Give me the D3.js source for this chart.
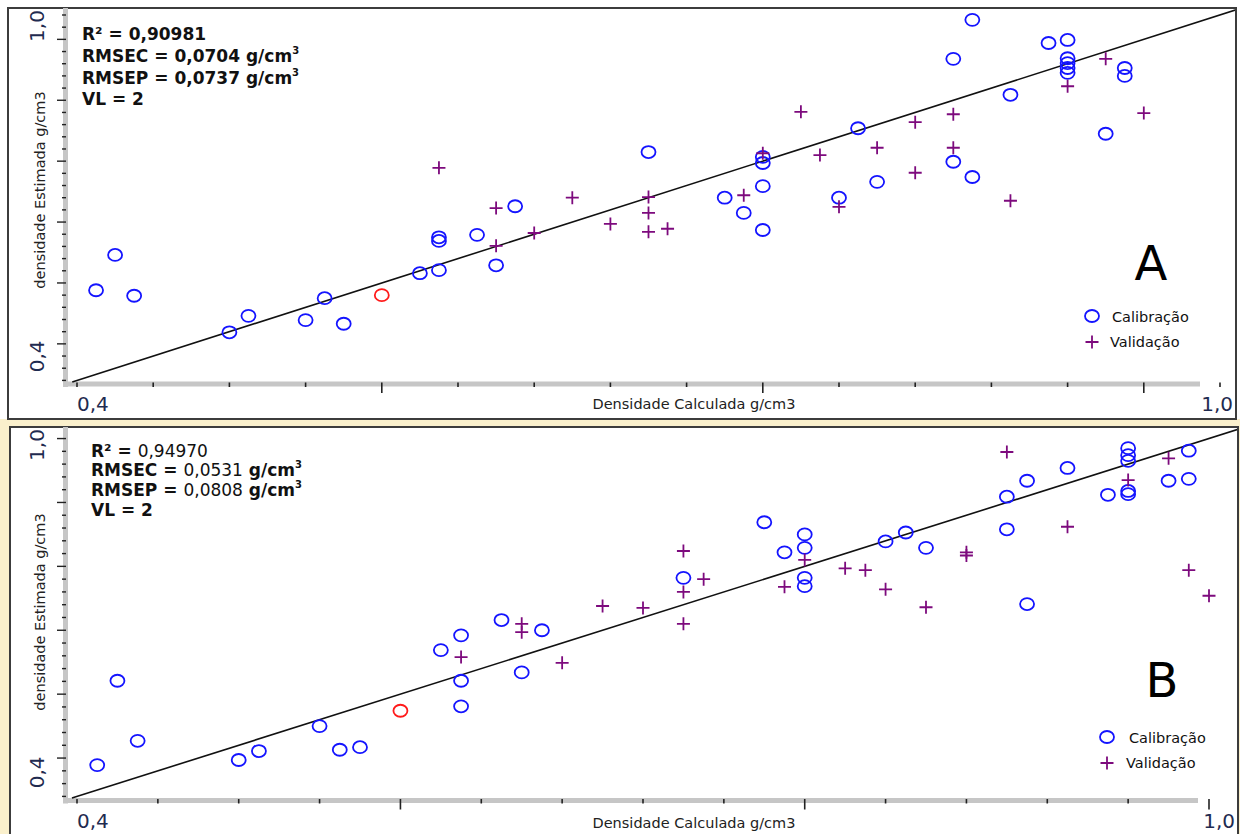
<!DOCTYPE html>
<html>
<head>
<meta charset="utf-8">
<script src="https://cdn.jsdelivr.net/npm/d3@7"></script>
<style>
  body { margin: 0; background: #fff; }
  svg { display: block; }
  text { font-family: "DejaVu Sans", Verdana, sans-serif; }
</style>
</head>
<body>
<svg id="chart" width="1240" height="834"></svg>
<script>
// ---- data (density calculated, density estimated) ----
const calibA = [
  [0.41, 0.548], [0.42, 0.606], [0.43, 0.539], [0.48, 0.479], [0.49, 0.506], [0.52, 0.499],
  [0.53, 0.535], [0.54, 0.493], [0.58, 0.576], [0.59, 0.581], [0.59, 0.635], [0.59, 0.629],
  [0.61, 0.639], [0.62, 0.589], [0.63, 0.686], [0.70, 0.775], [0.74, 0.700], [0.75, 0.675],
  [0.76, 0.647], [0.76, 0.719], [0.76, 0.757], [0.76, 0.767], [0.80, 0.700], [0.81, 0.814],
  [0.82, 0.726], [0.86, 0.759], [0.87, 0.734], [0.86, 0.928], [0.87, 0.992], [0.89, 0.869],
  [0.91, 0.954], [0.92, 0.959], [0.92, 0.929], [0.92, 0.921], [0.92, 0.913], [0.92, 0.905],
  [0.95, 0.913], [0.95, 0.900], [0.94, 0.805]
];
const validA = [
  [0.59, 0.749], [0.62, 0.683], [0.62, 0.621], [0.64, 0.642], [0.66, 0.700], [0.68, 0.657],
  [0.70, 0.701], [0.70, 0.675], [0.70, 0.644], [0.71, 0.649], [0.75, 0.704], [0.76, 0.773],
  [0.78, 0.841], [0.79, 0.770], [0.80, 0.685], [0.82, 0.782], [0.84, 0.824], [0.84, 0.741],
  [0.86, 0.837], [0.86, 0.782], [0.89, 0.695], [0.92, 0.883], [0.94, 0.928], [0.96, 0.839]
];
const outlierA = [[0.56, 0.540]];
const targetA = [0.3975, 1.0085];
const statsA = ["0,90981", "0,0704", "0,0737", "2"];

const calibB = [
  [0.41, 0.449], [0.42, 0.581], [0.43, 0.487], [0.48, 0.457], [0.49, 0.471], [0.52, 0.510],
  [0.53, 0.473], [0.54, 0.477], [0.58, 0.629], [0.59, 0.652], [0.59, 0.581], [0.59, 0.541],
  [0.61, 0.676], [0.62, 0.594], [0.63, 0.660], [0.70, 0.742], [0.74, 0.829], [0.75, 0.782],
  [0.76, 0.810], [0.76, 0.789], [0.76, 0.742], [0.76, 0.729], [0.80, 0.799], [0.81, 0.813],
  [0.82, 0.789], [0.86, 0.869], [0.86, 0.818], [0.87, 0.701], [0.87, 0.894], [0.89, 0.914],
  [0.92, 0.945], [0.92, 0.934], [0.92, 0.925], [0.92, 0.878], [0.92, 0.873], [0.91, 0.872],
  [0.94, 0.894], [0.95, 0.897], [0.95, 0.941]
];
const validB = [
  [0.59, 0.618], [0.62, 0.670], [0.62, 0.657], [0.64, 0.609], [0.66, 0.698], [0.68, 0.695],
  [0.70, 0.784], [0.70, 0.720], [0.70, 0.670], [0.71, 0.740], [0.75, 0.728], [0.76, 0.770],
  [0.78, 0.757], [0.79, 0.754], [0.80, 0.724], [0.82, 0.696], [0.84, 0.782], [0.84, 0.777],
  [0.86, 0.939], [0.89, 0.822], [0.92, 0.895], [0.94, 0.929], [0.95, 0.754], [0.96, 0.714]
];
const outlierB = [[0.56, 0.534]];
const targetB = [0.3975, 0.974];
const statsB = ["0,94970", "0,0531", "0,0808", "2"];

const statNames = ["R²", "RMSEC", "RMSEP", "VL"];
const endLabels = ["0,4", "1,0"];
const legendLabels = ["Calibração", "Validação"];
const xTitle = "Densidade Calculada g/cm3";
const yTitle = "densidade Estimada g/cm3";

// ---- layout ----
const panels = [
  {
    name: "A", calib: calibA, valid: validA, outlier: outlierA, target: targetA, stats: statsA,
    frame: {x: 8, y: 8, w: 1228, h: 411},
    xDomain: [0.4, 1.0], xRange: [77, 1220],
    yDomain: [0.4, 1.0], yRange: [380.4, 15],
    barEnd: 1200, barY: 384, statsX: 82, statsY: [40, 62, 84, 105], boldValues: true,
    xTitleY: 409, yTitleY: 190,
    letter: [1151, 280], legend: [1092, 316], legendText: [20, 18]
  },
  {
    name: "B", calib: calibB, valid: validB, outlier: outlierB, target: targetB, stats: statsB,
    frame: {x: 10, y: 427, w: 1228, h: 420},
    xDomain: [0.4, 0.96], xRange: [77, 1209],
    yDomain: [0.4, 1.0], yRange: [796.4, 413],
    barEnd: 1198, barY: 800.5, statsX: 91, statsY: [457, 476, 496, 516], boldValues: false,
    xTitleY: 828, yTitleY: 612,
    letter: [1162, 697], legend: [1107, 737], legendText: [22, 19]
  }
];

const svg = d3.select("#chart");

// cream surround of the lower (active) window
svg.append("rect").attr("x", 0).attr("y", 419).attr("width", 1240).attr("height", 415)
  .attr("fill", "#faf0cc");

panels.forEach(p => drawPanel(p));

function drawPanel(p) {
  const g = svg.append("g").attr("class", "panel-" + p.name);
  const f = p.frame;

  g.append("rect")
    .attr("x", f.x).attr("y", f.y).attr("width", f.w).attr("height", f.h)
    .attr("fill", "#fff").attr("stroke", "#3c3c3c").attr("stroke-width", 2);

  const x = d3.scaleLinear().domain(p.xDomain).range(p.xRange);
  const y = d3.scaleLinear().domain(p.yDomain).range(p.yRange);

  const clipId = "clip-" + p.name;
  g.append("clipPath").attr("id", clipId)
    .append("rect").attr("x", f.x + 1).attr("y", f.y + 1).attr("width", f.w - 2).attr("height", f.h - 2);

  // grey axis bars
  g.append("rect").attr("x", 63).attr("y", f.y).attr("width", 5).attr("height", p.barY + 3 - f.y)
    .attr("fill", "#c6c6c6");
  g.append("rect").attr("x", 63).attr("y", p.barY - 2.5).attr("width", p.barEnd - 63).attr("height", 5)
    .attr("fill", "#c6c6c6");

  // x ticks every 0.04, longer ones every 0.2
  const xTicks = d3.range(0, 16).map(i => 0.4 + i * 0.04).filter(v => v <= p.xDomain[1] + 1e-6);
  g.selectAll(".xt").data(xTicks).join("line")
    .attr("x1", d => x(d)).attr("x2", d => x(d))
    .attr("y1", p.barY - 1.5)
    .attr("y2", (d, i) => p.barY + ((i % 5 === 4) ? 9 : 3))
    .attr("stroke", "#222").attr("stroke-width", 1.6);

  // y ticks every 0.02, longer ones every 0.1
  const yTicks = d3.range(0, 34).map(i => 0.36 + i * 0.02)
    .filter(v => y(v) < p.barY && y(v) > f.y + 3);
  g.selectAll(".yt").data(yTicks).join("line")
    .attr("x1", d => (Math.round(d * 100) % 10 === 6) ? 57 : 62).attr("x2", 66)
    .attr("y1", d => y(d)).attr("y2", d => y(d))
    .attr("stroke", "#222").attr("stroke-width", 1.4);

  // end labels
  const tickCol = "#1f2b50";
  g.append("text").attr("x", p.xRange[0]).attr("y", p.barY + 27)
    .attr("font-size", 20).attr("fill", tickCol).text(endLabels[0]);
  g.append("text").attr("x", f.x + f.w - 3).attr("y", p.barY + 27).attr("text-anchor", "end")
    .attr("font-size", 20).attr("fill", tickCol).text(endLabels[1]);
  g.append("text").attr("transform", `translate(44,${p.yRange[0] - 24}) rotate(-90)`)
    .attr("text-anchor", "middle").attr("font-size", 20).attr("fill", tickCol).text(endLabels[0]);
  g.append("text").attr("transform", `translate(44,${f.y + 18}) rotate(-90)`)
    .attr("text-anchor", "middle").attr("font-size", 20).attr("fill", tickCol).text(endLabels[1]);

  // axis titles
  g.append("text").attr("x", 694).attr("y", p.xTitleY).attr("text-anchor", "middle")
    .attr("font-size", 14.5).attr("fill", "#222").text(xTitle);
  g.append("text").attr("transform", `translate(45,${p.yTitleY}) rotate(-90)`)
    .attr("text-anchor", "middle").attr("font-size", 14.5).attr("fill", "#222").text(yTitle);

  const plot = g.append("g").attr("clip-path", `url(#${clipId})`);

  // target line
  plot.append("line")
    .attr("x1", x(p.target[0])).attr("y1", y(p.target[0]))
    .attr("x2", x(p.target[1])).attr("y2", y(p.target[1]))
    .attr("stroke", "#111").attr("stroke-width", 1.6);

  // calibration circles
  plot.selectAll(".cal").data(p.calib).join("ellipse")
    .attr("cx", d => x(d[0])).attr("cy", d => y(d[1]))
    .attr("rx", 7).attr("ry", 6)
    .attr("fill", "none").attr("stroke", "#1414ff").attr("stroke-width", 1.8);

  plot.selectAll(".out").data(p.outlier).join("ellipse")
    .attr("cx", d => x(d[0])).attr("cy", d => y(d[1]))
    .attr("rx", 7).attr("ry", 6)
    .attr("fill", "none").attr("stroke", "#ff1a1a").attr("stroke-width", 1.8);

  // validation crosses
  const plus = (cx, cy, s) => `M${cx - s},${cy}H${cx + s}M${cx},${cy - s}V${cy + s}`;
  plot.selectAll(".val").data(p.valid).join("path")
    .attr("d", d => plus(x(d[0]), y(d[1]), 6.5))
    .attr("stroke", "#7d0a7d").attr("stroke-width", 1.8).attr("fill", "none");

  // statistics block
  const stats = g.append("g").attr("font-size", 17);
  p.stats.forEach((val, i) => {
    const t = stats.append("text").attr("x", p.statsX).attr("y", p.statsY[i]).attr("fill", "#111");
    t.append("tspan").attr("font-weight", "bold").text(statNames[i] + " = ");
    t.append("tspan").attr("font-weight", p.boldValues || i === 3 ? "bold" : "normal")
      .text((p.boldValues || i === 3 ? "" : " ") + val);
    if (i === 1 || i === 2) {
      t.append("tspan").attr("font-weight", "bold").text(" g/cm");
      t.append("tspan").attr("font-weight", "bold").attr("font-size", 10).attr("dy", -8).text("3");
    }
  });

  // panel letter
  g.append("text").attr("x", p.letter[0]).attr("y", p.letter[1]).attr("text-anchor", "middle")
    .attr("font-size", 48).attr("fill", "#000").text(p.name);

  // legend
  const [lx, ly] = p.legend;
  g.append("ellipse").attr("cx", lx).attr("cy", ly).attr("rx", 7).attr("ry", 6)
    .attr("fill", "none").attr("stroke", "#1414ff").attr("stroke-width", 1.8);
  g.append("path").attr("d", plus(lx, ly + 26, 6.5))
    .attr("stroke", "#7d0a7d").attr("stroke-width", 1.8);
  g.append("text").attr("x", lx + p.legendText[0]).attr("y", ly + 6)
    .attr("font-size", 14.5).attr("fill", "#111").text(legendLabels[0]);
  g.append("text").attr("x", lx + p.legendText[1]).attr("y", ly + 31)
    .attr("font-size", 14.5).attr("fill", "#111").text(legendLabels[1]);
}
</script>
</body>
</html>
